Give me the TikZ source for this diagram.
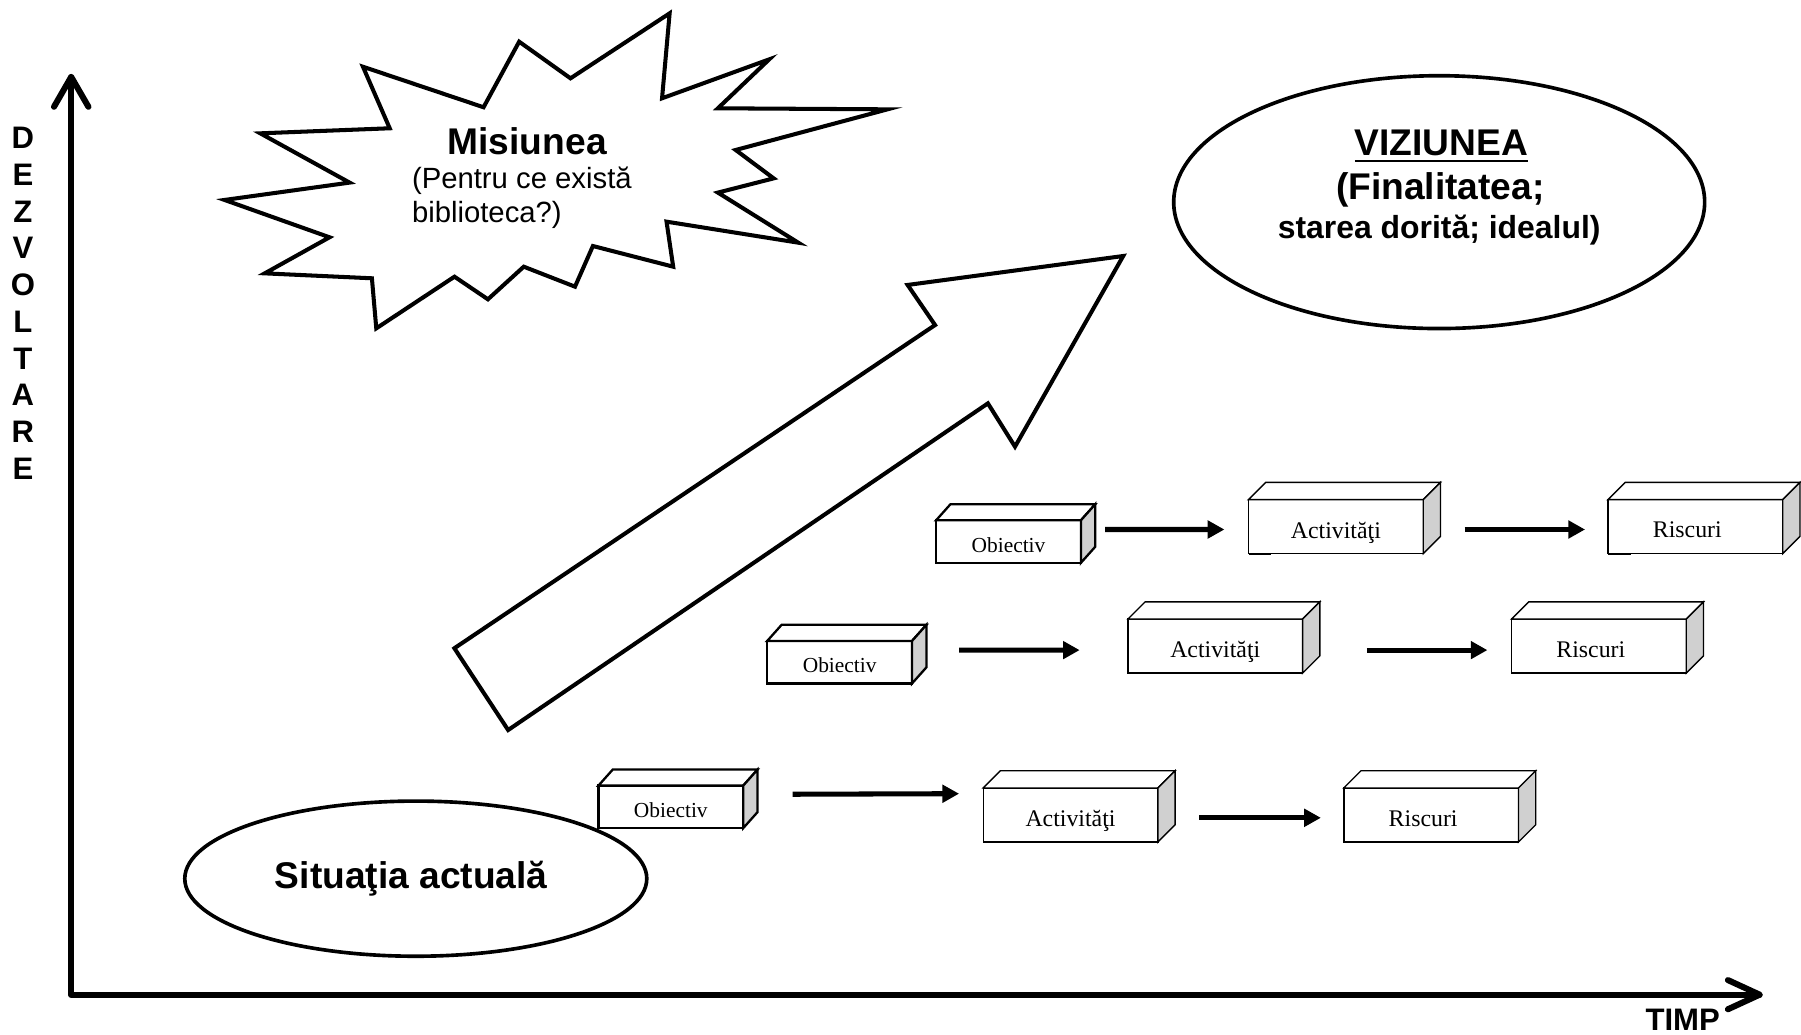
\documentclass[tikz,border=0pt]{standalone}
\usepackage{fontspec}
\setmainfont{Liberation Sans}
\newfontfamily\boxfont{Liberation Serif}
\usetikzlibrary{arrows.meta,calc,shapes.geometric}
\definecolor{sidegray}{RGB}{208,208,208}

% top and right faces of a box whose front face is node #1
\newcommand{\addfaces}[4]{%
  \filldraw[fill=white,line width=#4,line join=miter]
    (#1.north west) -- ++(#2,-#3) -- ($(#1.north east)+(#2,-#3)$) -- (#1.north east) -- cycle;
  \filldraw[fill=sidegray,line width=#4,line join=miter]
    (#1.north east) -- ++(#2,-#3) -- ($(#1.south east)+(#2,-#3)$) -- (#1.south east) -- cycle;
}
% short heavier stroke at the left end of a box's base
\newcommand{\basestroke}[1]{%
  \draw[line width=0.5pt] (#1.south west) -- ($(#1.south west)+(20,0)$);
}

\begin{document}
\begin{tikzpicture}[x=0.01cm,y=-0.01cm,
  outline/.style={draw=black,line width=1pt,line join=miter,fill=white},
  oval/.style={draw=black,line width=0.9pt,ellipse,inner sep=0pt,fill=white},
  axisline/.style={line width=1.5pt,line cap=round,line join=round},
  objbox/.style={draw,fill=white,line width=0.57pt,rectangle,inner sep=0pt,outer sep=0pt,
    minimum width=1.26cm,minimum height=0.37cm,anchor=north west,
    text height=5.3pt,text depth=0pt,
    font=\boxfont\fontsize{5.3pt}{6pt}\selectfont},
  actbox/.style={draw,fill=white,line width=0.33pt,rectangle,inner sep=0pt,outer sep=0pt,
    minimum width=1.52cm,minimum height=0.47cm,anchor=north west,
    text height=5.7pt,text depth=0pt,
    font=\boxfont\fontsize{5.9pt}{7pt}\selectfont},
  riskbox/.style={actbox,text height=5.5pt,execute at begin node={\kern-0.14cm}},
  link/.style={line width=1.25pt,-{Triangle[length=0.145cm,width=0.15cm]}},
  bigtitle/.style={font=\bfseries\fontsize{9.2pt}{11pt}\selectfont,inner sep=0pt}
]
\useasboundingbox (0,0) rectangle (1568,901);

% axes
\coordinate (origin) at (62,866);
\coordinate (ytip) at (62,67);
\coordinate (xtip) at (1532,866);
\draw[axisline] (ytip) -- (origin) -- (xtip);
\draw[axisline] ($(ytip)+(-15,26)$) -- (ytip) -- ($(ytip)+(15,26)$);
\draw[axisline] ($(xtip)+(-27.6,-12.7)$) -- (xtip) -- ($(xtip)+(-27.6,12.7)$);
\node[font=\bfseries\fontsize{7.7pt}{9.1pt}\selectfont,align=center,inner sep=0pt]
  (devLabel) at (20,264) {D\\E\\Z\\V\\O\\L\\T\\A\\R\\E};
\node[font=\bfseries\fontsize{7.7pt}{9pt}\selectfont,inner sep=0pt] (timeLabel) at (1465,888) {TIMP};

% mission burst
\draw[outline] (583,11.6) -- (576.4,85.6) -- (669.7,51.7) -- (625,94.3) -- (772.7,95.2)
  -- (640.5,130.6) -- (673.6,155.3) -- (625,167.7) -- (695,211.3) -- (580.3,193)
  -- (586.1,232.2) -- (516.2,214.2) -- (500.6,249.6) -- (456,232.2) -- (424.8,260.6)
  -- (395.7,240.9) -- (327.6,285.9) -- (323.8,242.3) -- (230.5,238) -- (286.9,206.6)
  -- (195.5,174.1) -- (304.4,159) -- (226.6,116.1) -- (339.3,111.7) -- (316,58.1)
  -- (421,93.4) -- (452,36.3) -- (496.7,68.2) -- cycle;
\node[bigtitle] (misTitle) at (459,123) {Misiunea};
\node[font=\fontsize{7.25pt}{8.5pt}\selectfont,align=left,anchor=west,inner sep=0pt]
  (misText) at (358,172) {(Pentru ce există\\biblioteca?)};

% big growth arrow
\draw[outline] (395.6,564.4) -- (442.4,635.6) -- (860.1,351.2) -- (883.7,388.9)
  -- (977.9,222.9) -- (790.2,248.1) -- (814.1,283) -- cycle;

% vision
\node[oval,minimum width=4.62cm,minimum height=2.2cm] (viz) at (1253,176) {};
\node[bigtitle,anchor=base] (vizTitle) at ([shift={(2,-41)}]viz.center) {\underline{VIZIUNEA}};
\node[bigtitle,anchor=base] (vizLine) at ([shift={(1,-2)}]viz.center) {(Finalitatea;};
\node[font=\bfseries\fontsize{7.9pt}{9.5pt}\selectfont,inner sep=0pt,anchor=base]
  (vizNote) at ([shift={(0,32)}]viz.center) {starea dorită; idealul)};

% current situation
\node[oval,minimum width=4.02cm,minimum height=1.35cm] (now) at (362,765) {};
\node[bigtitle] (nowText) at ([shift={(-4,0)}]now.center) {Situaţia actuală};

% row A
\node[objbox] (objA) at (815,453) {Obiectiv};
\addfaces{objA}{12.5}{14}{0.57pt}
\node[actbox] (actA) at (1087,435) {Activităţi};
\addfaces{actA}{15}{15}{0.33pt}
\basestroke{actA}
\node[riskbox] (riskA) at (1400,435) {Riscuri};
\addfaces{riskA}{15}{15}{0.33pt}
\basestroke{riskA}
\draw[link] ([shift={(21,-10.5)}]objA.east) -- ([shift={(-21,2.5)}]actA.west);
\draw[link] ([shift={(36,2.5)}]actA.east) -- ([shift={(-20,2.5)}]riskA.west);

% row B
\node[objbox] (objB) at (668,558) {Obiectiv};
\addfaces{objB}{12.5}{14}{0.57pt}
\node[actbox] (actB) at (982,539) {Activităţi};
\addfaces{actB}{15}{15}{0.33pt}
\basestroke{actB}
\node[riskbox] (riskB) at (1316,539) {Riscuri};
\addfaces{riskB}{15}{15}{0.33pt}
\basestroke{riskB}
\draw[link] ([shift={(41,-10.5)}]objB.east) -- ([shift={(-42,3.5)}]actB.west);
\draw[link] ([shift={(56,3.5)}]actB.east) -- ([shift={(-21,3.5)}]riskB.west);

% row C
\node[objbox] (objC) at (521,684) {Obiectiv};
\addfaces{objC}{12.5}{14}{0.57pt}
\node[actbox] (actC) at (856,686) {Activităţi};
\addfaces{actC}{15}{15}{0.33pt}
\basestroke{actC}
\node[riskbox] (riskC) at (1170,686) {Riscuri};
\addfaces{riskC}{15}{15}{0.33pt}
\basestroke{riskC}
\draw[link] ([shift={(43,-11)}]objC.east) -- ([shift={(-21,-18.5)}]actC.west);
\draw[link] ([shift={(36,2.5)}]actC.east) -- ([shift={(-20,2.5)}]riskC.west);
\end{tikzpicture}
\end{document}
